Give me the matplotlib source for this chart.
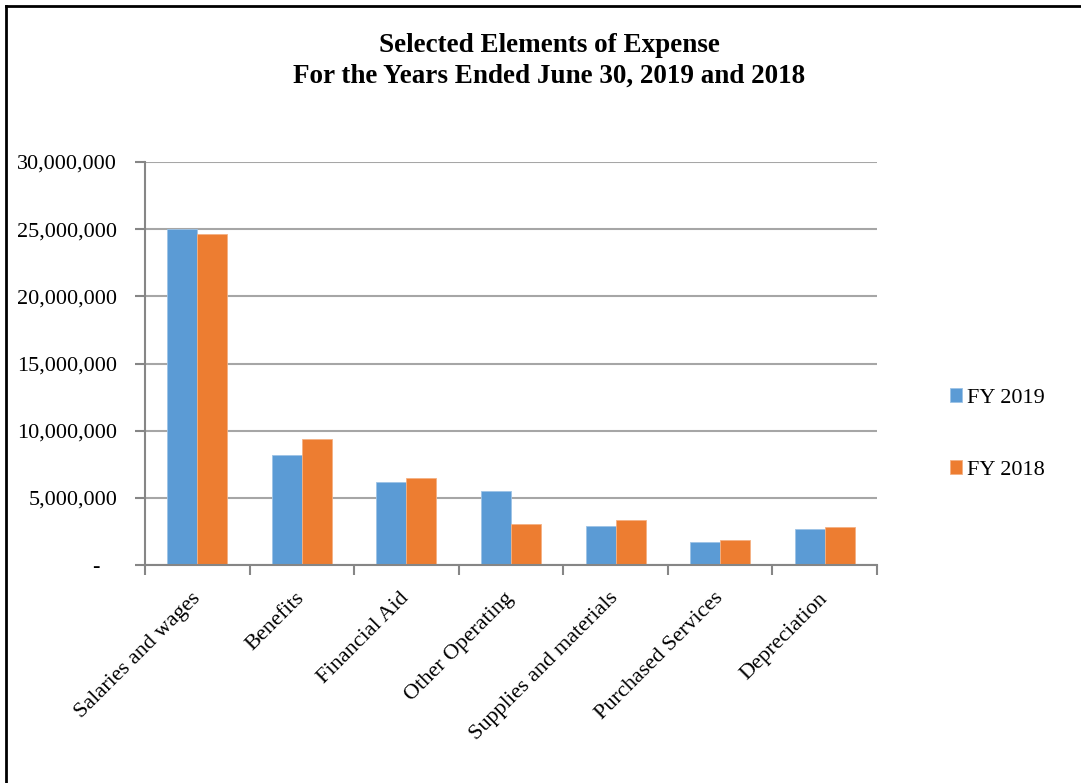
import matplotlib.pyplot as plt
import numpy as np
from matplotlib.lines import Line2D
from matplotlib.ticker import FuncFormatter

# datos
categorias = ["Salaries and wages", "Benefits", "Financial Aid", "Other Operating",
              "Supplies and materials", "Purchased Services", "Depreciation"]
fy2019 = [25000000, 8210000, 6180000, 5530000, 2930000, 1690000, 2680000]
fy2018 = [24640000, 9360000, 6450000, 3050000, 3350000, 1840000, 2810000]
series = ["FY 2019", "FY 2018"]

plt.rcParams["font.family"] = ["Liberation Serif", "DejaVu Serif"]

fig = plt.figure(figsize=(10.81, 7.83), dpi=100)
ax = fig.add_axes([145 / 1081, 1 - 565 / 783, 732 / 1081, 403 / 783])

x = np.arange(len(categorias))
ancho = 0.287
ax.bar(x - ancho / 2, fy2019, ancho, color="#5B9BD5", edgecolor="#9DC3E6", linewidth=0.6,
       label=series[0], zorder=3)
ax.bar(x + ancho / 2, fy2018, ancho, color="#ED7D31", edgecolor="#F4B183", linewidth=0.6,
       label=series[1], zorder=3)

ax.set_xlim(-0.5, len(categorias) - 0.5)
ax.set_ylim(0, 30000000)
ax.set_yticks(np.arange(0, 30000001, 5000000))


def formato(v, pos):
    if v == 0:
        return "-   "
    return f"{v:,.0f}"


ax.yaxis.set_major_formatter(FuncFormatter(formato))
ax.grid(axis="y", color="#a6a6a6", linewidth=1.5, zorder=0)

# ticks del eje x en los bordes de cada categoria
ax.set_xticks(np.arange(-0.5, len(categorias), 1.0))
ax.set_xticklabels([])
ax.set_xticks(x, minor=True)
ax.set_xticklabels(categorias, minor=True, rotation=45, ha="right", va="center",
                   rotation_mode="anchor", fontsize=16)
ax.tick_params(axis="x", which="minor", length=0, pad=22)
ax.tick_params(axis="x", which="major", length=7, width=1.5, color="#868686")
ax.tick_params(axis="y", length=7, width=1.5, color="#868686", labelsize=16, pad=13)

for lado in ["top", "right"]:
    ax.spines[lado].set_visible(False)
ax.spines["left"].set_color("#868686")
ax.spines["left"].set_linewidth(1.5)
ax.spines["bottom"].set_color("#868686")
ax.spines["bottom"].set_linewidth(1.5)
ax.spines["left"].set_zorder(4)
ax.spines["bottom"].set_zorder(4)

fig.text(549 / 1081, 1 - 46 / 783, "Selected Elements of Expense", ha="center", va="center",
         fontsize=19.5, fontweight="bold")
fig.text(549 / 1081, 1 - 76 / 783, "For the Years Ended June 30, 2019 and 2018", ha="center",
         va="center", fontsize=19.5, fontweight="bold")

fig.legend(loc="center left", bbox_to_anchor=(930 / 1081, 1 - 434 / 783), frameon=False,
           fontsize=16, handlelength=0.55, handleheight=0.55, handletextpad=0.2,
           labelspacing=2.35)

# borde de la figura
fig.add_artist(Line2D([6 / 1081, 6 / 1081], [0, 1 - 6 / 783], color="black", linewidth=2,
                      transform=fig.transFigure))
fig.add_artist(Line2D([6 / 1081, 1], [1 - 6 / 783, 1 - 6 / 783], color="black", linewidth=2,
                      transform=fig.transFigure))

fig.savefig("out.png", dpi=100, facecolor="white")
